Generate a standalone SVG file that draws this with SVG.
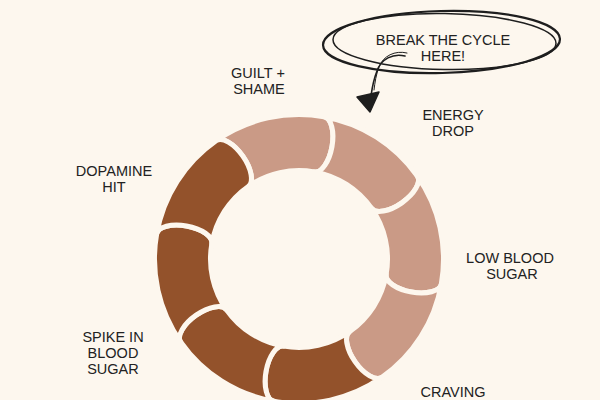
<svg xmlns="http://www.w3.org/2000/svg" width="600" height="400" viewBox="0 0 600 400">
<style>
.bg{fill:#FDF7EE}
.seg{stroke:#FDF7EE;stroke-width:5;stroke-linejoin:round}
.light{fill:#CA9A86}
.dark{fill:#93522B}
.lbl{font-family:"Liberation Sans",Arial,sans-serif;font-size:14.5px;fill:#222;text-anchor:middle}
.ink{fill:none;stroke:#1E1E1E;stroke-linecap:round}
</style>
<rect class="bg" x="0" y="0" width="600" height="400"/>
<g id="ring">
<g id="seg-guilt"><path class="seg light" d="M216.12 140.63 A144.5 144.5 0 0 1 324.09 116.69 A13 28 10 0 1 314.37 171.84 A88.5 88.5 0 0 0 248.24 186.51 A13 28 325 0 0 216.12 140.63 Z"/></g>
<g id="seg-energy"><path class="seg light" d="M324.09 116.69 A144.5 144.5 0 0 1 417.37 176.12 A13 28 55 0 1 371.49 208.24 A88.5 88.5 0 0 0 314.37 171.84 A13 28 10 0 0 324.09 116.69 Z"/></g>
<g id="seg-low"><path class="seg light" d="M417.37 176.12 A144.5 144.5 0 0 1 441.31 284.09 A13 28 100 0 1 386.16 274.37 A88.5 88.5 0 0 0 371.49 208.24 A13 28 55 0 0 417.37 176.12 Z"/></g>
<g id="seg-craving"><path class="seg light" d="M441.31 284.09 A144.5 144.5 0 0 1 381.88 377.37 A13 28 145 0 1 349.76 331.49 A88.5 88.5 0 0 0 386.16 274.37 A13 28 100 0 0 441.31 284.09 Z"/></g>
<g id="seg-binge"><path class="seg dark" d="M381.88 377.37 A144.5 144.5 0 0 1 273.91 401.31 A13 28 190 0 1 283.63 346.16 A88.5 88.5 0 0 0 349.76 331.49 A13 28 145 0 0 381.88 377.37 Z"/></g>
<g id="seg-spike"><path class="seg dark" d="M273.91 401.31 A144.5 144.5 0 0 1 180.63 341.88 A13 28 235 0 1 226.51 309.76 A88.5 88.5 0 0 0 283.63 346.16 A13 28 190 0 0 273.91 401.31 Z"/></g>
<g id="seg-dopamine"><path class="seg dark" d="M180.63 341.88 A144.5 144.5 0 0 1 156.69 233.91 A13 28 280 0 1 211.84 243.63 A88.5 88.5 0 0 0 226.51 309.76 A13 28 235 0 0 180.63 341.88 Z"/></g>
<g id="seg-hit"><path class="seg dark" d="M156.69 233.91 A144.5 144.5 0 0 1 216.12 140.63 A13 28 325 0 1 248.24 186.51 A88.5 88.5 0 0 0 211.84 243.63 A13 28 280 0 0 156.69 233.91 Z"/></g>
</g>
<g id="callout">
<ellipse class="ink" cx="441.5" cy="42" rx="118.5" ry="31" transform="rotate(-1.5 441.5 42)" stroke-width="2.2"/>
<ellipse class="ink" cx="444.5" cy="41.5" rx="111.5" ry="28" transform="rotate(1 444.5 41.5)" stroke-width="1.5"/>
<text class="lbl" x="443" y="45">BREAK THE CYCLE</text>
<text class="lbl" x="443" y="61">HERE!</text>
</g>
<g id="connectors">
<path class="ink" stroke-width="1.6" d="M405 56 C393 53 381 59 377 71 C373 81 372 89 371 96"/>
<path class="ink" stroke-width="1" d="M407 53 C395 50 383 56 379 67 C376 75 375 82 374 90"/>
<path d="M357 97 L379 92 L370 112 Z" fill="#1E1E1E" stroke="#1E1E1E" stroke-width="1.5" stroke-linejoin="round"/>
</g>
<g id="label-guilt"><text class="lbl" x="258" y="78">GUILT +</text><text class="lbl" x="259" y="94">SHAME</text></g>
<g id="label-energy"><text class="lbl" x="453" y="120">ENERGY</text><text class="lbl" x="453" y="136">DROP</text></g>
<g id="label-low"><text class="lbl" x="510" y="263">LOW BLOOD</text><text class="lbl" x="512" y="279">SUGAR</text></g>
<g id="label-craving"><text class="lbl" x="453" y="397">CRAVING</text></g>
<g id="label-spike"><text class="lbl" x="113" y="342">SPIKE IN</text><text class="lbl" x="113" y="358">BLOOD</text><text class="lbl" x="113" y="374">SUGAR</text></g>
<g id="label-dopamine"><text class="lbl" x="114" y="176">DOPAMINE</text><text class="lbl" x="114" y="192">HIT</text></g>
</svg>
